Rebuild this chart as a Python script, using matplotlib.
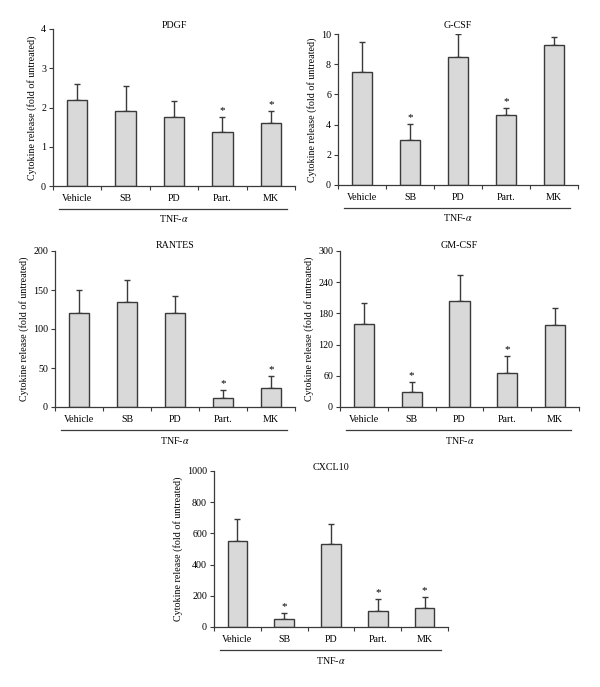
import matplotlib.pyplot as plt
import numpy as np

plt.rcParams['font.family'] = ['Liberation Serif', 'DejaVu Serif']
plt.rcParams['mathtext.fontset'] = 'stix'

groups = ['Vehicle', 'SB', 'PD', 'Part.', 'MK']

pdgf = [2.2, 1.9, 1.77, 1.37, 1.6]
pdgf_err = [0.4, 0.65, 0.4, 0.38, 0.3]
pdgf_sig = [False, False, False, True, True]

gcsf = [7.5, 3.0, 8.5, 4.65, 9.3]
gcsf_err = [2.0, 1.05, 1.5, 0.45, 0.5]
gcsf_sig = [False, True, False, True, False]

rantes = [120, 135, 120, 12, 25]
rantes_err = [30, 28, 22, 10, 15]
rantes_sig = [False, False, False, True, True]

gmcsf = [160, 28, 203, 65, 158]
gmcsf_err = [40, 20, 50, 33, 32]
gmcsf_sig = [False, True, False, True, False]

cxcl10 = [550, 52, 530, 100, 125]
cxcl10_err = [145, 36, 130, 80, 65]
cxcl10_sig = [False, True, False, True, True]

panels = [
    ('PDGF', pdgf, pdgf_err, pdgf_sig, [0, 1, 2, 3, 4], (53, 295, 186, 29), 25),
    ('G-CSF', gcsf, gcsf_err, gcsf_sig, [0, 2, 4, 6, 8, 10], (338, 578, 185, 34), 25),
    ('RANTES', rantes, rantes_err, rantes_sig, [0, 50, 100, 150, 200], (55, 295, 407, 251), 246),
    ('GM-CSF', gmcsf, gmcsf_err, gmcsf_sig, [0, 60, 120, 180, 240, 300], (340, 579, 407, 251), 246),
    ('CXCL10', cxcl10, cxcl10_err, cxcl10_sig, [0, 200, 400, 600, 800, 1000], (214, 448, 627, 471), 467),
]

W, H = 600, 687
fig = plt.figure(figsize=(6, 6.87), dpi=100)
edge = '#3a3a3a'

for name, vals, errs, sig, yt, (x0, x1, yb, ytp), ty in panels:
    ax = fig.add_axes([x0 / W, 1 - yb / H, (x1 - x0) / W, (yb - ytp) / H])
    x = np.arange(len(groups))
    ax.bar(x, vals, width=0.42, color='#d9d9d9', edgecolor=edge, linewidth=1.0, zorder=2)
    ax.errorbar(x, vals, yerr=[np.zeros(len(vals)), errs], fmt='none', ecolor=edge,
                elinewidth=1.0, capsize=2.5, capthick=1.0, zorder=1)
    ax.set_xlim(-0.5, 4.5)
    ax.set_ylim(0, yt[-1])
    ax.set_yticks(yt)
    ax.set_xticks(x)
    ax.set_xticklabels(groups)
    ax.set_xticks(np.arange(-0.5, 5, 1), minor=True)
    ax.tick_params(axis='x', which='major', length=0, pad=6, labelsize=7.2)
    ax.tick_params(axis='x', which='minor', length=3, width=0.8, direction='out', color=edge)
    ax.tick_params(axis='y', length=3, width=0.8, direction='out', labelsize=7.2, color=edge, pad=2)
    for s in ['top', 'right']:
        ax.spines[s].set_visible(False)
    for s in ['left', 'bottom']:
        ax.spines[s].set_color(edge)
        ax.spines[s].set_linewidth(0.9)
    ax.set_ylabel('Cytokine release (fold of untreated)', fontsize=7.2, labelpad=3)
    hpx = yb - ytp
    for xi, v, e, s in zip(x, vals, errs, sig):
        if s:
            ax.text(xi, v + e + yt[-1] * 0.012, '*', ha='center', va='bottom', fontsize=8)
    ax.text(2, 1 + (ytp - ty) / hpx, name, transform=ax.get_xaxis_transform(),
            ha='center', va='center', fontsize=7.2)
    trans = ax.get_xaxis_transform()
    ax.plot([-0.38, 4.34], [-23 / hpx, -23 / hpx], transform=trans, color=edge,
            linewidth=0.9, clip_on=False)
    ax.text(2, -33 / hpx, 'TNF-$\\alpha$', transform=trans, ha='center', va='center', fontsize=7.2)

fig.savefig('out.png', dpi=100, facecolor='white')
